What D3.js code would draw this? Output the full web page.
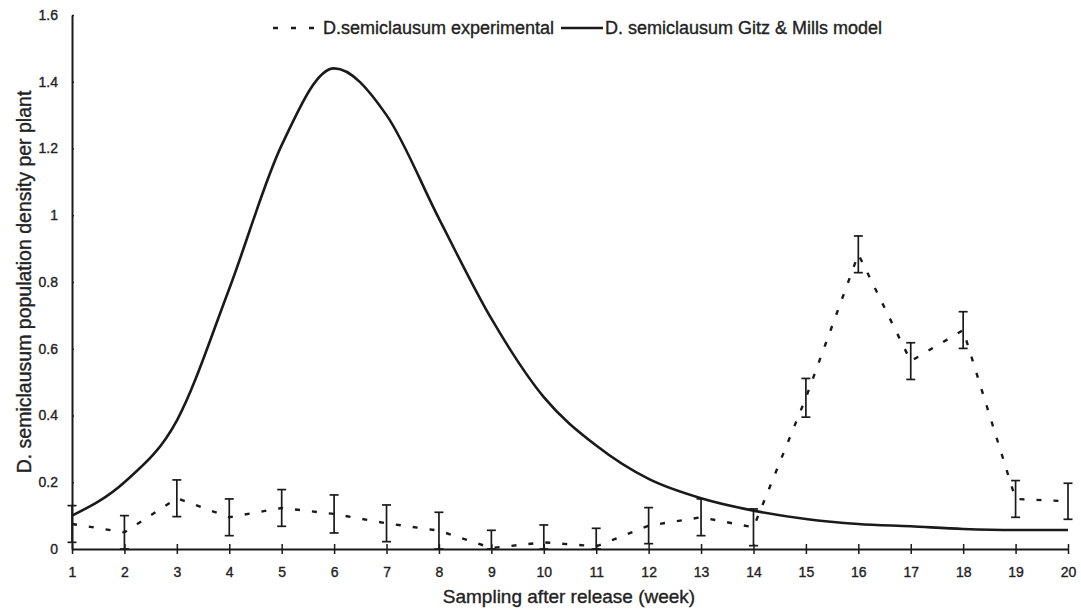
<!DOCTYPE html>
<html>
<head>
<meta charset="utf-8">
<script src="https://cdn.jsdelivr.net/npm/d3@7"></script>
<style>
  html, body { margin: 0; padding: 0; background: #fff; }
  svg { display: block; font-family: "Liberation Sans", Arial, sans-serif; }
  .txt { fill: #222; stroke: #222; stroke-width: 0.35px; }
</style>
</head>
<body>
<svg id="chart" width="1081" height="616"></svg>
<script>
// ---- data ----
const weeks = [1,2,3,4,5,6,7,8,9,10,11,12,13,14,15,16,17,18,19,20];
const experimental = [0.075,0.05,0.152,0.095,0.123,0.105,0.077,0.055,0.003,0.02,0.008,0.07,0.095,0.065,0.453,0.883,0.563,0.656,0.15,0.143];
const experimentalErr = [0.055,0.05,0.055,0.055,0.055,0.057,0.055,0.055,0.053,0.052,0.054,0.054,0.055,0.055,0.058,0.055,0.055,0.055,0.055,0.054];
const model = [0.10,0.20,0.385,0.78,1.21,1.44,1.30,0.99,0.69,0.455,0.31,0.21,0.152,0.115,0.09,0.075,0.068,0.06,0.057,0.057];
const yTicks = [0,0.2,0.4,0.6,0.8,1,1.2,1.4,1.6];
const seriesNames = ["D.semiclausum experimental","D. semiclausum Gitz & Mills model"];
const xTitle = "Sampling after release (week)";
const yTitle = "D. semiclausum population density per plant";

// ---- layout ----
const svg = d3.select("#chart");
const mLeft = 72, mRight = 1068, mTop = 15, mBottom = 549;
const x = d3.scaleLinear().domain([1,20]).range([mLeft,mRight]);
const y = d3.scaleLinear().domain([0,1.6]).range([mBottom,mTop]);
const ink = "#1a1a1a";

// axes
const xAxis = svg.append("g").attr("transform",`translate(0,${mBottom})`)
  .call(d3.axisBottom(x).tickValues(weeks).tickFormat(d3.format("d")).tickSizeInner(5).tickSizeOuter(0).tickPadding(13));
xAxis.select(".domain").attr("stroke",ink).attr("stroke-width",2);
xAxis.selectAll(".tick line").attr("stroke",ink).attr("stroke-width",1.5).attr("y1",-5);
xAxis.selectAll(".tick text").attr("font-size",14).attr("class","txt");

const yAxis = svg.append("g").attr("transform",`translate(${mLeft},0)`)
  .call(d3.axisLeft(y).tickValues(yTicks).tickFormat(d => String(+d.toFixed(1))).tickSizeInner(5).tickSizeOuter(0).tickPadding(9));
yAxis.select(".domain").attr("stroke",ink).attr("stroke-width",2);
yAxis.selectAll(".tick line").attr("stroke",ink).attr("stroke-width",1.5).attr("x2",2);
yAxis.selectAll(".tick text").attr("font-size",14).attr("class","txt");

// model line
const lineModel = d3.line().x((d,i)=>x(weeks[i])).y(d=>y(d)).curve(d3.curveMonotoneX);
svg.append("path").datum(model).attr("d",lineModel)
  .attr("fill","none").attr("stroke",ink).attr("stroke-width",2.6);

// experimental dashed line
const lineExp = d3.line().x((d,i)=>x(weeks[i])).y(d=>y(d));
svg.append("path").datum(experimental).attr("d",lineExp)
  .attr("fill","none").attr("stroke",ink).attr("stroke-width",2.4).attr("stroke-dasharray","5,12");

// error bars
const eb = svg.append("g").attr("stroke",ink).attr("stroke-width",1.7);
experimental.forEach((v,i)=>{
  const lo = Math.max(0, v - experimentalErr[i]);
  const hi = v + experimentalErr[i];
  const cx = x(weeks[i]);
  eb.append("line").attr("x1",cx).attr("x2",cx).attr("y1",y(lo)).attr("y2",y(hi));
  eb.append("line").attr("x1",cx-4.5).attr("x2",cx+4.5).attr("y1",y(hi)).attr("y2",y(hi));
  eb.append("line").attr("x1",cx-4.5).attr("x2",cx+4.5).attr("y1",y(lo)).attr("y2",y(lo));
});

// axis titles
svg.append("text").attr("x",569).attr("y",603).attr("text-anchor","middle")
  .attr("font-size",19).attr("class","txt").text(xTitle);
svg.append("text").attr("transform",`translate(31,${(mTop+mBottom)/2}) rotate(-90)`)
  .attr("text-anchor","middle").attr("font-size",19.5).attr("class","txt").text(yTitle);

// legend
const lg = svg.append("g");
lg.append("line").attr("x1",273).attr("x2",316).attr("y1",28).attr("y2",28)
  .attr("stroke",ink).attr("stroke-width",2.4).attr("stroke-dasharray","5,13");
lg.append("text").attr("x",323).attr("y",34).attr("font-size",18).attr("class","txt").text(seriesNames[0]);
lg.append("line").attr("x1",561).attr("x2",603).attr("y1",28).attr("y2",28)
  .attr("stroke",ink).attr("stroke-width",2.6);
lg.append("text").attr("x",605).attr("y",34).attr("font-size",18).attr("class","txt").text(seriesNames[1]);
</script>
</body>
</html>
